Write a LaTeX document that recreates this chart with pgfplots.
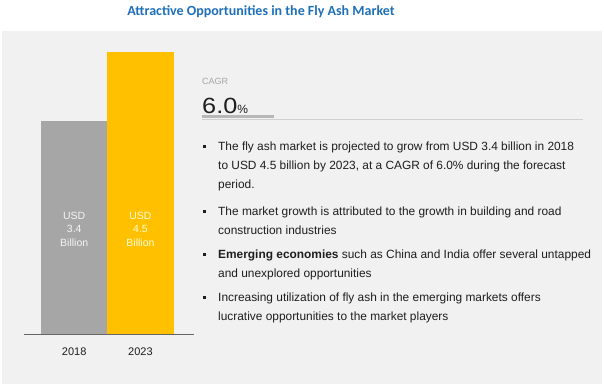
\documentclass[border=0pt]{standalone}
\usepackage{pgfplots}
\pgfplotsset{compat=1.18}
\usepackage{fontspec}
\setmainfont{Liberation Sans}
\newfontfamily\titlefont{Carlito}
\newfontfamily\bigfont{Liberation Sans}[FakeStretch=1.15]
\definecolor{panel}{HTML}{F1F1F1}
\definecolor{titleblue}{HTML}{1F70B8}
\definecolor{bargray}{HTML}{A6A6A6}
\definecolor{baryellow}{HTML}{FFC000}
\definecolor{txt}{HTML}{1E1E1E}
\newcommand{\bodyfont}{\fontsize{11.9}{14}\selectfont}
\begin{document}
\begin{tikzpicture}[x=1pt,y=1pt]
\path[use as bounding box] (0,0) rectangle (604,389);
\fill[white] (0,0) rectangle (604,389);
\fill[panel] (2,5) rectangle (602,358);
\node[anchor=base, inner sep=0, text=titleblue, font=\titlefont\bfseries\fontsize{14}{16}\selectfont] at (261,373) {Attractive Opportunities in the Fly Ash Market};
\begin{axis}[
  at={(24pt,55pt)}, anchor=south west,
  scale only axis, width=170pt, height=282pt,
  xmin=-0.758, xmax=1.808, ymin=0, ymax=4.5,
  axis x line=bottom, axis y line=none,
  x axis line style={-, draw=gray!80!black, line width=0.8pt},
  xtick={0,1}, xticklabels={2018,2023},
  major tick length=0pt,
  xticklabel style={anchor=base, yshift=-21pt, text=txt, font=\fontsize{11}{13}\selectfont},
  clip=false,
]
\addplot[ybar, bar width=66.25pt, bar shift=0pt, fill=bargray, draw=none] coordinates {(0,3.4)};
\addplot[ybar, bar width=66.25pt, bar shift=0pt, fill=baryellow, draw=none] coordinates {(1,4.5)};
\node[align=center, text=white!92!gray, font=\fontsize{10.5}{13.5}\selectfont] at (axis cs:0,1.67) {USD\\3.4\\Billion};
\node[align=center, text=white!85!yellow, font=\fontsize{10.5}{13.5}\selectfont] at (axis cs:1,1.67) {USD\\4.5\\Billion};
\end{axis}
% CAGR block
\node[anchor=base west, inner sep=0, text=gray!70, font=\fontsize{9}{10}\selectfont] at (202,305) {CAGR};
\node[anchor=base west, inner sep=0, text=txt] at (202,276) {{\bigfont\fontsize{22}{24}\selectfont 6.0}{\fontsize{12}{14}\selectfont\%}};
\draw[draw=black!18, line width=0.8pt] (202,270) -- (583,270);
\fill[black!28] (202,271) rectangle (274,274);
% bullets
\foreach \b in {239,174,131,88} {\fill[txt] (203,\b+2.5) rectangle (206,\b+5.5);}
\begin{scope}[every node/.style={anchor=base west, inner sep=0, text=txt, font=\bodyfont}]
\node at (218,239) {The fly ash market is projected to grow from USD 3.4 billion in 2018};
\node at (218,220) {to USD 4.5 billion by 2023, at a CAGR of 6.0\% during the forecast};
\node at (218,201) {period.};
\node at (218,174) {The market growth is attributed to the growth in building and road};
\node at (218,155) {construction industries};
\node at (218,131) {\textbf{Emerging economies} such as China and India offer several untapped};
\node at (218,112) {and unexplored opportunities};
\node at (218,88) {Increasing utilization of fly ash in the emerging markets offers};
\node at (218,69) {lucrative opportunities to the market players};
\end{scope}
\end{tikzpicture}
\end{document}
